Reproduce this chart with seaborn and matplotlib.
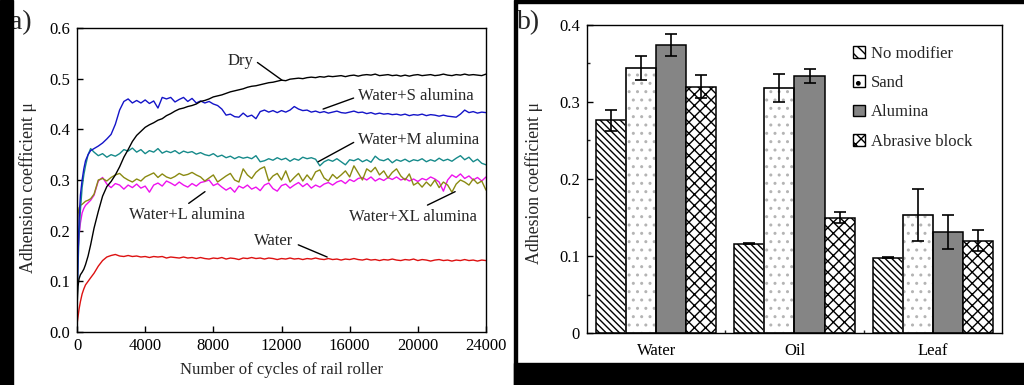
import numpy as np
import pandas as pd
import seaborn as sns
import matplotlib
matplotlib.use("Agg")
import matplotlib.pyplot as plt
from matplotlib.patches import Rectangle, Patch
from matplotlib.ticker import MultipleLocator

## panel a: adhesion vs number of cycles
cycles = [0, 60, 120, 200, 300, 400, 500, 650, 800, 1000] + list(range(1250, 24001, 250))

mu_dry = [0.05, 0.09, 0.105, 0.113, 0.118, 0.124, 0.133, 0.15, 0.172, 0.205,
          0.238, 0.268, 0.287, 0.297, 0.31, 0.326, 0.345, 0.36,
          0.376, 0.388, 0.396, 0.404, 0.409, 0.413, 0.418, 0.421,
          0.427, 0.431, 0.436, 0.44, 0.442, 0.445, 0.447, 0.45,
          0.455, 0.457, 0.46, 0.464, 0.466, 0.468, 0.471, 0.474,
          0.476, 0.478, 0.48, 0.483, 0.485, 0.486, 0.488, 0.49,
          0.492, 0.493, 0.495, 0.497, 0.496, 0.499, 0.5, 0.501,
          0.5, 0.502, 0.503, 0.502, 0.504, 0.503, 0.505, 0.504,
          0.505, 0.506, 0.504, 0.506, 0.507, 0.505, 0.507, 0.508,
          0.507, 0.509, 0.506, 0.507, 0.508, 0.506, 0.507, 0.505,
          0.507, 0.505, 0.507, 0.508, 0.506, 0.507, 0.508, 0.506,
          0.507, 0.509, 0.507, 0.506, 0.508, 0.507, 0.509, 0.507,
          0.508, 0.507, 0.506, 0.509]

mu_s = [0.05, 0.15, 0.22, 0.27, 0.3, 0.322, 0.338, 0.35, 0.358, 0.362,
        0.367, 0.373, 0.381, 0.39, 0.41, 0.438, 0.455, 0.46,
        0.452, 0.457, 0.452, 0.458, 0.451, 0.456, 0.442, 0.463,
        0.46, 0.463, 0.454, 0.459, 0.463, 0.455, 0.461, 0.452,
        0.456, 0.452, 0.455, 0.45, 0.447, 0.44, 0.428, 0.43,
        0.425, 0.424, 0.432, 0.425, 0.428, 0.421, 0.435, 0.438,
        0.434, 0.437, 0.433, 0.437, 0.434, 0.438, 0.445, 0.44,
        0.437, 0.438, 0.434, 0.436, 0.433, 0.435, 0.432, 0.434,
        0.436, 0.433, 0.432, 0.434, 0.436, 0.433, 0.434, 0.431,
        0.433, 0.43, 0.432, 0.43, 0.431, 0.429, 0.43, 0.428,
        0.43, 0.427, 0.429, 0.428, 0.43, 0.427, 0.429, 0.428,
        0.426, 0.428, 0.426, 0.425, 0.424, 0.43, 0.438, 0.433,
        0.435, 0.432, 0.434, 0.433]

mu_m = [0.05, 0.13, 0.19, 0.24, 0.285, 0.31, 0.328, 0.35, 0.362, 0.355,
        0.348, 0.352, 0.345, 0.35, 0.347, 0.352, 0.36, 0.357,
        0.363, 0.355, 0.36, 0.352, 0.358, 0.355, 0.362, 0.353,
        0.357, 0.354, 0.358, 0.352, 0.357, 0.354, 0.356, 0.351,
        0.354, 0.35, 0.348, 0.352, 0.346, 0.349, 0.344, 0.347,
        0.342, 0.346, 0.343, 0.345, 0.342, 0.348, 0.336, 0.338,
        0.342, 0.339, 0.344, 0.34, 0.343, 0.337, 0.342, 0.339,
        0.345, 0.342, 0.344, 0.341, 0.328, 0.336, 0.34, 0.337,
        0.342, 0.336, 0.33, 0.34, 0.338, 0.342, 0.336, 0.34,
        0.335, 0.347, 0.34, 0.338, 0.342, 0.334, 0.34, 0.337,
        0.341, 0.336, 0.34, 0.338, 0.342, 0.336, 0.34, 0.337,
        0.343, 0.338, 0.341, 0.337, 0.343, 0.348, 0.34, 0.345,
        0.336, 0.341, 0.333, 0.33]

mu_l = [0.08, 0.16, 0.19, 0.215, 0.235, 0.244, 0.25, 0.255, 0.26, 0.27,
        0.298, 0.305, 0.292, 0.285, 0.293, 0.29, 0.282, 0.29,
        0.285, 0.292, 0.284, 0.288, 0.276, 0.29, 0.294, 0.288,
        0.298, 0.294, 0.289, 0.296, 0.29, 0.286, 0.293, 0.288,
        0.295, 0.297, 0.3, 0.289, 0.293, 0.286, 0.28, 0.285,
        0.276, 0.288, 0.284, 0.29, 0.282, 0.286, 0.279, 0.29,
        0.294, 0.283, 0.278, 0.289, 0.292, 0.284, 0.29, 0.295,
        0.287, 0.293, 0.284, 0.29, 0.286, 0.292, 0.295, 0.29,
        0.296, 0.299, 0.293, 0.301, 0.297, 0.303, 0.305, 0.3,
        0.306, 0.298, 0.303, 0.299, 0.305, 0.301, 0.306, 0.3,
        0.303, 0.298, 0.302, 0.297, 0.303, 0.3, 0.306, 0.302,
        0.296, 0.278, 0.3, 0.31, 0.305, 0.312, 0.303, 0.308,
        0.3, 0.305, 0.298, 0.306]

mu_xl = [0.2, 0.232, 0.245, 0.25, 0.252, 0.255, 0.258, 0.26, 0.263, 0.272,
         0.3, 0.303, 0.298, 0.305, 0.31, 0.313, 0.305, 0.3,
         0.296, 0.302, 0.298, 0.306, 0.31, 0.314, 0.305, 0.312,
         0.306, 0.303, 0.307, 0.313, 0.309, 0.311, 0.315, 0.31,
         0.306, 0.298, 0.304, 0.31, 0.296, 0.302, 0.308, 0.313,
         0.3, 0.296, 0.322, 0.31, 0.303, 0.315, 0.322, 0.326,
         0.298, 0.308, 0.313, 0.3, 0.318, 0.296, 0.305, 0.313,
         0.298, 0.31, 0.3, 0.316, 0.32, 0.304, 0.298, 0.311,
         0.303, 0.31, 0.318, 0.306, 0.328, 0.314, 0.3, 0.322,
         0.316, 0.325, 0.31, 0.318, 0.304, 0.315, 0.322, 0.308,
         0.3, 0.312, 0.29, 0.295, 0.286, 0.296, 0.288, 0.3,
         0.285, 0.296, 0.29, 0.276, 0.292, 0.3, 0.296, 0.29,
         0.302, 0.293, 0.298, 0.28]

mu_water = [0.015, 0.03, 0.045, 0.06, 0.075, 0.085, 0.093, 0.1, 0.107, 0.116,
            0.13, 0.141, 0.148, 0.151, 0.153, 0.15, 0.149, 0.151,
            0.149, 0.15, 0.148, 0.149, 0.147, 0.149, 0.148, 0.149,
            0.146, 0.148, 0.147, 0.146, 0.148, 0.146, 0.147, 0.145,
            0.147, 0.145, 0.144, 0.146, 0.145, 0.147, 0.144, 0.146,
            0.145, 0.143, 0.146, 0.145, 0.147, 0.145, 0.146, 0.144,
            0.146, 0.145, 0.143, 0.145, 0.144, 0.146, 0.144, 0.145,
            0.143, 0.145, 0.144, 0.146, 0.144, 0.143, 0.145, 0.143,
            0.144, 0.142, 0.144, 0.143, 0.145, 0.143, 0.142, 0.144,
            0.142, 0.143, 0.141, 0.143, 0.142, 0.144, 0.142, 0.141,
            0.143, 0.142, 0.144, 0.141, 0.143, 0.142, 0.14, 0.142,
            0.143, 0.141, 0.142, 0.14, 0.142, 0.141, 0.143, 0.141,
            0.142, 0.14, 0.142, 0.141]

line_names = ["Water", "Water+L alumina", "Water+XL alumina", "Water+M alumina", "Water+S alumina", "Dry"]
line_values = [mu_water, mu_l, mu_xl, mu_m, mu_s, mu_dry]
line_colors = ["#dd1111", "#ee11ee", "#8a8a12", "#168a8a", "#1414c8", "#000000"]

## panel b: mean adhesion with error bars
conditions = ["Water", "Oil", "Leaf"]
modifiers = ["No modifier", "Sand", "Alumina", "Abrasive block"]
bar_mu = {
    "No modifier": [0.276, 0.116, 0.098],
    "Sand": [0.344, 0.318, 0.153],
    "Alumina": [0.374, 0.334, 0.131],
    "Abrasive block": [0.320, 0.150, 0.120],
}
bar_err = {
    "No modifier": [0.014, 0.001, 0.001],
    "Sand": [0.016, 0.018, 0.034],
    "Alumina": [0.014, 0.009, 0.022],
    "Abrasive block": [0.015, 0.007, 0.014],
}

sns.set_theme(style="ticks")
plt.rcParams["font.family"] = ["Liberation Serif", "DejaVu Serif"]
plt.rcParams["hatch.linewidth"] = 1.0

W, H = 1024, 385
fig = plt.figure(figsize=(W / 100, H / 100), dpi=100, facecolor="white")

def px_axes(l, t, r, b):
    return fig.add_axes([l / W, 1 - b / H, (r - l) / W, (b - t) / H])

ax_a = px_axes(77, 28, 486, 332)
ax_b = px_axes(587, 25, 1002, 333)

fs = 12
fs_lab = 12.8

# ---------- panel a ----------
df_a = pd.DataFrame({
    "cycles": cycles * len(line_names),
    "mu": sum(line_values, []),
    "case": sum([[n] * len(cycles) for n in line_names], []),
})
sns.lineplot(data=df_a, x="cycles", y="mu", hue="case", hue_order=line_names,
             palette=dict(zip(line_names, line_colors)), linewidth=1.0,
             errorbar=None, legend=False, ax=ax_a)
ax_a.set_xlim(0, 24000)
ax_a.set_ylim(0, 0.6)
ax_a.set_xticks(range(0, 24001, 4000))
ax_a.set_yticks(np.arange(0, 0.61, 0.1))
ax_a.set_xlabel("Number of cycles of rail roller", fontsize=fs)
ax_a.set_ylabel("Adhension coefficient μ", fontsize=fs_lab)
ax_a.xaxis.set_label_coords(0.5, -0.1)
ax_a.yaxis.set_label_coords(-0.098, 0.474)
ax_a.tick_params(direction="in", length=4, width=1, labelsize=fs, pad=4, colors="black")
ax_a.tick_params(axis="y", pad=5)

notes = [
    ("Dry", (9570, 0.535), (12030, 0.497), "center", (1.0, 0.6)),
    ("Water+S alumina", (16500, 0.465), (14440, 0.44), "left", (0.0, 0.5)),
    ("Water+M alumina", (16500, 0.379), (14150, 0.336), "left", (0.0, 0.5)),
    ("Water+L alumina", (6425, 0.23), (7510, 0.277), "center", (0.47, 1.0)),
    ("Water+XL alumina", (19720, 0.227), (22190, 0.277), "center", (0.55, 1.0)),
    ("Water", (11565, 0.179), (14680, 0.148), "center", (1.0, 0.4)),
]
for txt, pos, tip, ha, rel in notes:
    ax_a.annotate(txt, xy=tip, xytext=pos, ha=ha, va="center", fontsize=fs,
                  arrowprops=dict(arrowstyle="-", color="black", lw=1.0,
                                  relpos=rel, shrinkA=1, shrinkB=0))

# ---------- panel b ----------
df_b = pd.DataFrame({
    "condition": conditions * len(modifiers),
    "mu": sum([bar_mu[m] for m in modifiers], []),
    "modifier": sum([[m] * len(conditions) for m in modifiers], []),
})
faces = {"No modifier": "white", "Sand": "white", "Alumina": "#858585", "Abrasive block": "white"}
hatches = {"No modifier": "\\\\\\\\\\", "Sand": "..", "Alumina": "", "Abrasive block": "xxx"}
sns.barplot(data=df_b, x="condition", y="mu", hue="modifier", order=conditions,
            hue_order=modifiers, palette=faces, width=0.87, gap=0,
            errorbar=None, legend=False, ax=ax_b)

for mod, cont in zip(modifiers, ax_b.containers):
    xs, ys = [], []
    for p in cont:
        p.set_facecolor(faces[mod])
        p.set_hatch(hatches[mod])
        p.set_linewidth(1.1)
        if mod == "Sand":
            p.set_edgecolor("#b4b4b4")
            ax_b.add_patch(Rectangle(p.get_xy(), p.get_width(), p.get_height(),
                                     fill=False, edgecolor="black", lw=1.1, zorder=p.get_zorder() + 0.1))
        else:
            p.set_edgecolor("black")
        xs.append(p.get_x() + p.get_width() / 2)
        ys.append(p.get_height())
    ax_b.errorbar(xs, ys, yerr=bar_err[mod], fmt="none", ecolor="black",
                  elinewidth=1.2, capsize=4, capthick=1.2, zorder=5)

ax_b.set_xlim(-0.5, 2.5)
ax_b.set_ylim(0, 0.4)
ax_b.set_yticks([0, 0.1, 0.2, 0.3, 0.4], labels=["0", "0.1", "0.2", "0.3", "0.4"])
ax_b.yaxis.set_minor_locator(MultipleLocator(0.05))
ax_b.set_xticks([0.5, 1.5], minor=True)
ax_b.set_xlabel("")
ax_b.set_ylabel("Adhesion coefficient μ", fontsize=fs_lab)
ax_b.yaxis.set_label_coords(-0.106, 0.487)
ax_b.tick_params(direction="in", length=4, width=1, labelsize=fs, pad=5, colors="black")
ax_b.tick_params(axis="x", which="major", length=0, pad=7)
ax_b.tick_params(which="minor", direction="in", length=2.5, width=1)

handles = [Patch(facecolor=faces[m], edgecolor="black",
                 hatch=("." if m == "Sand" else ("\\\\\\" if m == "No modifier" else hatches[m])), lw=1.0)
           for m in modifiers]
ax_b.legend(handles, modifiers, loc="upper left", bbox_to_anchor=(0.625, 0.955), frameon=False,
            fontsize=fs, handlelength=0.7, handleheight=0.7, handletextpad=0.35,
            labelspacing=0.8, borderaxespad=0)

for ax in (ax_a, ax_b):
    for s in ax.spines.values():
        s.set_linewidth(1.0)
        s.set_color("black")

# panel letters
fig.text(10 / W, 1 - 10 / H, "a)", fontsize=20, ha="left", va="top")
fig.text(517 / W, 1 - 10 / H, "b)", fontsize=20, ha="left", va="top")

# black frame pieces of the original composite
for (x0, y0, x1, y1) in [(0, 0, 13, 385), (514, 0, 517, 385), (517, 0, 1024, 3), (514, 363, 1024, 385)]:
    fig.add_artist(Rectangle((x0 / W, 1 - y1 / H), (x1 - x0) / W, (y1 - y0) / H,
                             transform=fig.transFigure, color="black", zorder=10))

fig.savefig("out.png", dpi=100, facecolor="white")
